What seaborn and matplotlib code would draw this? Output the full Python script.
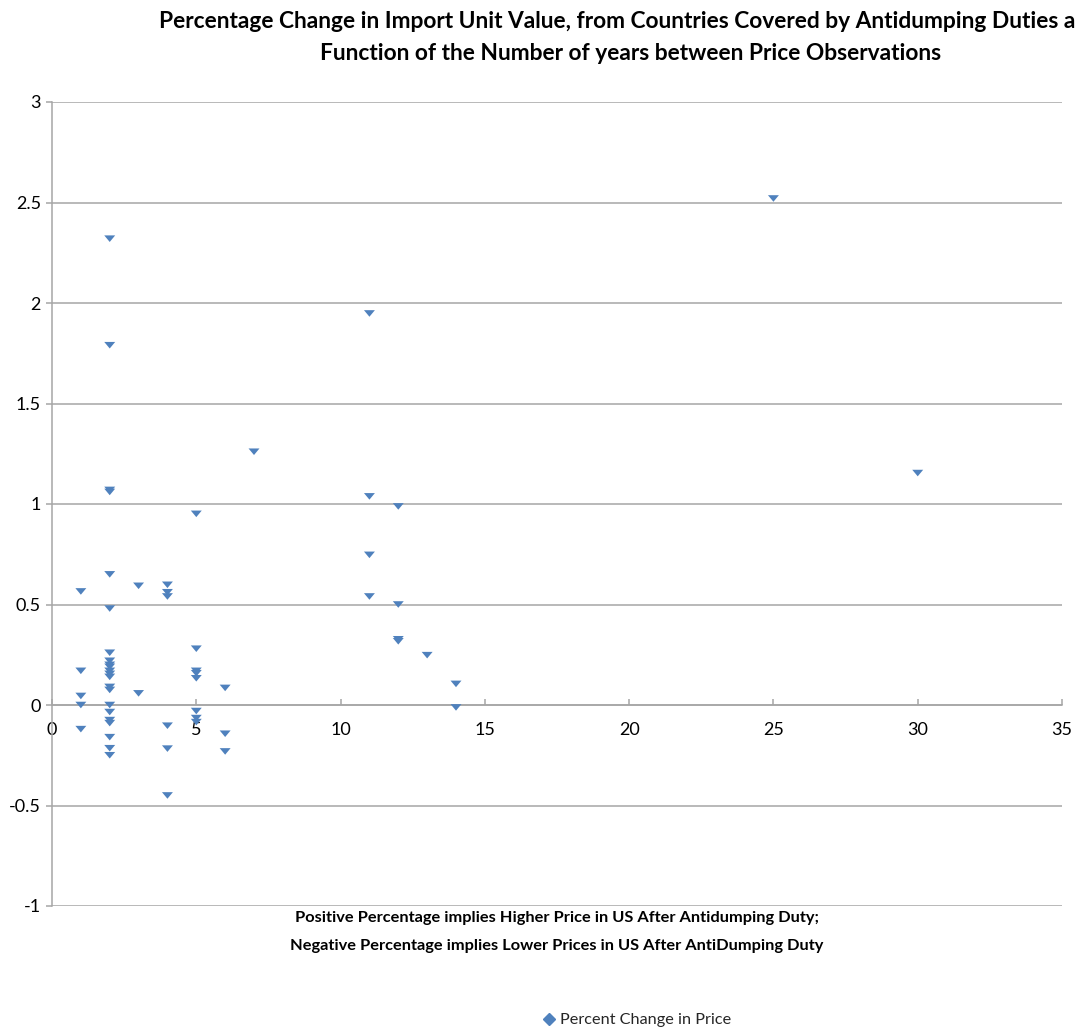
import matplotlib
matplotlib.use("Agg")
import matplotlib.pyplot as plt
from matplotlib.lines import Line2D
from matplotlib.markers import MarkerStyle
import seaborn as sns
import pandas as pd

# ---- data ----
years = [1, 1, 1, 1, 1,
         2, 2, 2, 2, 2, 2, 2, 2, 2, 2, 2, 2, 2, 2, 2, 2, 2, 2, 2, 2, 2, 2,
         3, 3,
         4, 4, 4, 4, 4, 4,
         5, 5, 5, 5, 5, 5, 5, 5,
         6, 6, 6,
         7,
         11, 11, 11, 11,
         12, 12, 12, 12,
         13,
         14, 14,
         25,
         30]
pct_change = [0.565, 0.17, 0.045, 0.0, -0.12,
              2.32, 1.79, 1.07, 1.06, 0.65, 0.48, 0.26, 0.22, 0.20, 0.19, 0.17,
              0.155, 0.14, 0.09, 0.075, 0.0, -0.035, -0.075, -0.09, -0.16, -0.215, -0.25,
              0.593, 0.058,
              0.598, 0.561, 0.54, -0.103, -0.217, -0.45,
              0.951, 0.28, 0.17, 0.158, 0.133, -0.03, -0.065, -0.085,
              0.085, -0.143, -0.231,
              1.26,
              1.948, 1.038, 0.747, 0.54,
              0.988, 0.50, 0.327, 0.317,
              0.248,
              0.105, -0.012,
              2.52,
              1.154]
x_ticks = [0, 5, 10, 15, 20, 25, 30, 35]
y_ticks = [-1, -0.5, 0, 0.5, 1, 1.5, 2, 2.5, 3]
y_tick_labels = ["-1", "-0.5", "0", "0.5", "1", "1.5", "2", "2.5", "3"]
series_name = "Percent Change in Price"

title_line1 = "Percentage Change in Import Unit Value, from Countries Covered by Antidumping Duties as a"
title_line2 = "Function of the Number of years between Price Observations"
note_line1 = "Positive Percentage implies Higher Price in US After Antidumping Duty;"
note_line2 = "Negative Percentage implies Lower Prices in US After AntiDumping Duty"

df = pd.DataFrame({"years": years, "pct": pct_change})

sns.set_theme(style="white")
plt.rcParams["font.family"] = ["Lato", "DejaVu Sans"]

BLUE = "#4F81BD"
GRID = "#A6A6A6"

fig = plt.figure(figsize=(10.76, 10.34), dpi=100)
ax = fig.add_axes([52 / 1076, 1 - 906 / 1034, (1062 - 52) / 1076, (906 - 102) / 1034])

tri = MarkerStyle([(-1, 0.6), (1, 0.6), (0, -0.6), (-1, 0.6)])
sns.scatterplot(data=df, x="years", y="pct", ax=ax, marker=tri, s=62,
                color=BLUE, edgecolor="none", linewidth=0, legend=False, zorder=3)

ax.set_xlim(0, 35)
ax.set_ylim(-1, 3)
ax.set_xticks(x_ticks)
ax.set_xticklabels([str(t) for t in x_ticks])
ax.set_yticks(y_ticks)
ax.set_yticklabels(y_tick_labels)
ax.set_xlabel("")
ax.set_ylabel("")

ax.yaxis.grid(True, color=GRID, linewidth=1.1)
ax.xaxis.grid(False)
ax.set_axisbelow(True)

for side in ("top", "right"):
    ax.spines[side].set_visible(False)
ax.spines["left"].set_color(GRID)
ax.spines["left"].set_linewidth(1.1)
ax.spines["bottom"].set_position(("data", 0))
ax.spines["bottom"].set_color(GRID)
ax.spines["bottom"].set_linewidth(1.1)

ax.tick_params(axis="y", which="major", direction="out", length=4, width=1.1,
               color=GRID, pad=4, labelsize=13, labelcolor="black", left=True)
ax.tick_params(axis="x", which="major", direction="in", length=4, width=1.1,
               color=GRID, pad=12, labelsize=13, labelcolor="black", bottom=True)

# title (centred, first line runs past the right edge as in the reference)
fig.text(631 / 1076, 1 - 22 / 1034, title_line1, ha="center", va="center",
         fontsize=16.4, fontweight="bold", color="black")
fig.text(631 / 1076, 1 - 53 / 1034, title_line2, ha="center", va="center",
         fontsize=16.4, fontweight="bold", color="black")

# note under the plot
fig.text(557 / 1076, 1 - 918 / 1034, note_line1, ha="center", va="center",
         fontsize=11.8, fontweight="bold", color="black")
fig.text(557 / 1076, 1 - 946 / 1034, note_line2, ha="center", va="center",
         fontsize=11.8, fontweight="bold", color="black")

handle = Line2D([], [], marker="D", color=BLUE, linestyle="none", markersize=6.5)
fig.legend([handle], [series_name], loc="center", bbox_to_anchor=(637 / 1076, 1 - 1020 / 1034),
           frameon=False, fontsize=11.7, handlelength=0.8, handletextpad=0.3)

fig.savefig("out.png", dpi=100)
